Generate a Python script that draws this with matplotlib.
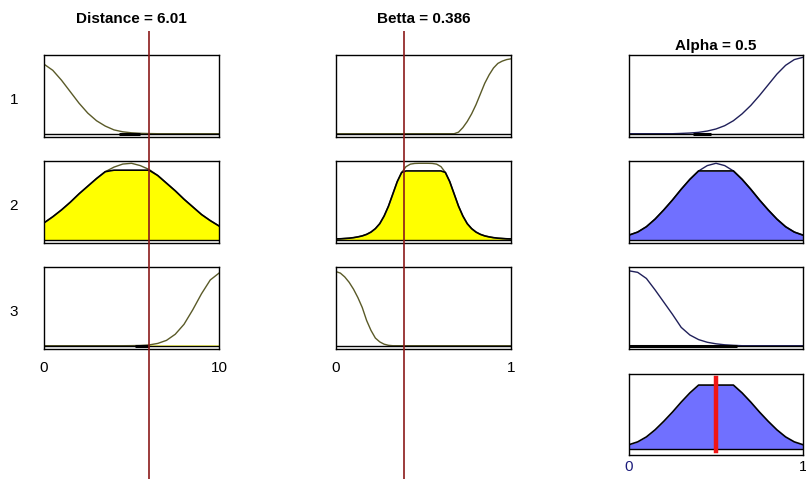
import numpy as np
import matplotlib
matplotlib.use("Agg")
import matplotlib.pyplot as plt

plt.rcParams['font.family'] = ['Liberation Sans', 'DejaVu Sans']

# crisp values shown in the titles
distance_value = 6.01
betta_value = 0.386
alpha_value = 0.5

# membership functions
distance_x = np.linspace(0, 10, 21)
distance_mf1 = [0.91, 0.83, 0.70, 0.55, 0.40, 0.27, 0.17, 0.10, 0.05, 0.025, 0.012,
                0.005, 0.002, 0, 0, 0, 0, 0, 0, 0, 0]
distance_mf2 = [0.22, 0.30, 0.39, 0.49, 0.60, 0.70, 0.80, 0.89, 0.95, 0.99, 1.0,
                0.97, 0.92, 0.84, 0.74, 0.64, 0.53, 0.43, 0.33, 0.25, 0.18]
distance_mf3 = [0, 0, 0, 0, 0, 0, 0, 0, 0, 0, 0.001,
                0.003, 0.01, 0.03, 0.07, 0.15, 0.28, 0.47, 0.68, 0.86, 0.95]

betta_x = np.linspace(0, 1, 41)
betta_mf1 = [0] * 28 + [0.02, 0.08, 0.16, 0.26, 0.38, 0.52, 0.66, 0.77, 0.86, 0.92,
                        0.95, 0.97, 0.98]
betta_mf2 = [0.01, 0.012, 0.016, 0.02, 0.027, 0.037, 0.05, 0.07, 0.10, 0.145, 0.21,
             0.31, 0.44, 0.60, 0.76, 0.88, 0.956, 0.989, 0.998, 1.0, 1.0,
             1.0, 0.998, 0.989, 0.956, 0.88, 0.76, 0.60, 0.44, 0.31, 0.21,
             0.145, 0.10, 0.07, 0.05, 0.037, 0.027, 0.02, 0.016, 0.012, 0.01]
betta_mf3 = [0.97, 0.95, 0.90, 0.83, 0.74, 0.63, 0.50, 0.33, 0.20, 0.10, 0.05,
             0.02, 0.005] + [0] * 28

alpha_x = np.linspace(0, 1, 21)
alpha_mf1 = [0, 0, 0, 0, 0, 0, 0.004, 0.009, 0.018, 0.035, 0.062,
             0.105, 0.17, 0.26, 0.37, 0.50, 0.64, 0.78, 0.895, 0.97, 1.0]
alpha_mf2 = [0.06, 0.10, 0.17, 0.27, 0.39, 0.52, 0.66, 0.79, 0.90, 0.97, 1.0,
             0.97, 0.90, 0.79, 0.66, 0.52, 0.39, 0.27, 0.17, 0.10, 0.06]
alpha_mf3 = [0.98, 0.96, 0.88, 0.73, 0.57, 0.41, 0.24, 0.14, 0.08, 0.045, 0.025,
             0.012, 0.005, 0, 0, 0, 0, 0, 0, 0, 0]

# firing levels per rule (rows 1..3)
distance_fire = [0.003, 0.91, 0.01]
betta_fire = [0.0, 0.90, 0.0]
alpha_fire = [0.003, 0.90, 0.01]

# short dark strips lying on the zero line
distance_strips = [[4.3, 5.5], None, [5.2, 6.0]]
betta_strips = [None, None, None]
alpha_strips = [[0.37, 0.47], None, [0.0, 0.62]]

W, H = 806, 485
col_left = [44, 336, 629]
col_width = [175, 175, 174]
row_top = [56, 162, 268, 375]
row_height = [82, 82, 82, 81]

YELLOW = '#ffff00'
BLUE = '#7070ff'
IN_LINE = '#5a5a28'
OUT_LINE = '#20205a'
DARK_RED = '#8b1a1a'


def box(left, top, width, height):
    return [left / W, 1 - (top + height) / H, width / W, height / H]


def style_axes(ax, xmax, ylim):
    ax.set_xlim(0, xmax)
    ax.set_ylim(*ylim)
    ax.set_xticks([])
    ax.set_yticks([])
    for s in ax.spines.values():
        s.set_linewidth(1.0)
        s.set_color('black')


def draw_panel(ax, x, mf, level, fill_color, line_color, strip, xmax):
    mf = np.array(mf)
    clipped = np.minimum(mf, level)
    ax.fill_between(x, 0, clipped, color=fill_color, lw=0)
    ax.plot(x, mf, color=line_color, lw=1.0)
    if level > 0.1:
        ax.plot(x, clipped, color='black', lw=1.2)
    ax.axhline(0, color='black', lw=1.0)
    if strip is not None:
        ax.plot(strip, [0, 0], color='black', lw=2.2, solid_capstyle='butt')
    style_axes(ax, xmax, (-0.043, 1.03))


def main():
    fig = plt.figure(figsize=(W / 100, H / 100), dpi=100)

    columns = [
        (distance_x, [distance_mf1, distance_mf2, distance_mf3], distance_fire,
         distance_strips, YELLOW, IN_LINE, 10),
        (betta_x, [betta_mf1, betta_mf2, betta_mf3], betta_fire,
         betta_strips, YELLOW, IN_LINE, 1),
        (alpha_x, [alpha_mf1, alpha_mf2, alpha_mf3], alpha_fire,
         alpha_strips, BLUE, OUT_LINE, 1),
    ]

    for c, (x, mfs, fires, strips, fcol, lcol, xmax) in enumerate(columns):
        for r in range(3):
            ax = fig.add_axes(box(col_left[c], row_top[r], col_width[c], row_height[r]))
            draw_panel(ax, x, mfs[r], fires[r], fcol, lcol, strips[r], xmax)
            if r == 2 and c < 2:
                ax.set_xticks([0, xmax])
                ax.set_xticklabels(['0', str(xmax)], fontsize=11)
                ax.tick_params(length=0, pad=8)

    # aggregated output
    ax4 = fig.add_axes(box(col_left[2], row_top[3], col_width[2], row_height[3]))
    agg = np.zeros(len(alpha_x))
    for mf, lev in zip([alpha_mf1, alpha_mf2, alpha_mf3], alpha_fire):
        agg = np.maximum(agg, np.minimum(np.array(mf), lev))
    ax4.fill_between(alpha_x, 0, agg, color=BLUE, lw=0)
    ax4.plot(alpha_x, agg, color='black', lw=1.2)
    ax4.axhline(0, color='black', lw=1.0)
    style_axes(ax4, 1, (-0.085, 1.056))
    ax4.axvline(alpha_value, ymin=0.05, ymax=0.95, color='#f01515', lw=3.2)
    ax4.set_xticks([0, 1])
    ax4.set_xticklabels(['0', '1'], fontsize=11)
    ax4.get_xticklabels()[0].set_color('#1c1c7c')
    ax4.tick_params(length=0, pad=3)

    # input value lines running through the whole column
    for c, val, xmax in [(0, distance_value, 10), (1, betta_value, 1)]:
        ov = fig.add_axes(box(col_left[c], 32, col_width[c], 448))
        ov.set_xlim(0, xmax)
        ov.axis('off')
        ov.axvline(val, color=DARK_RED, lw=1.2)

    fig.text(131.5 / W, 1 - 19 / H, 'Distance = %.2f' % distance_value,
             ha='center', va='center', fontsize=11, fontweight='bold')
    fig.text(423.5 / W, 1 - 19 / H, 'Betta = %.3f' % betta_value,
             ha='center', va='center', fontsize=11, fontweight='bold')
    fig.text(716 / W, 1 - 46 / H, 'Alpha = %.1f' % alpha_value,
             ha='center', va='center', fontsize=11, fontweight='bold')

    for r, lab in enumerate(['1', '2', '3']):
        fig.text(14 / W, 1 - (row_top[r] + 44) / H, lab,
                 ha='center', va='center', fontsize=11)

    fig.savefig('out.png', dpi=100)


if __name__ == "__main__":
    main()
